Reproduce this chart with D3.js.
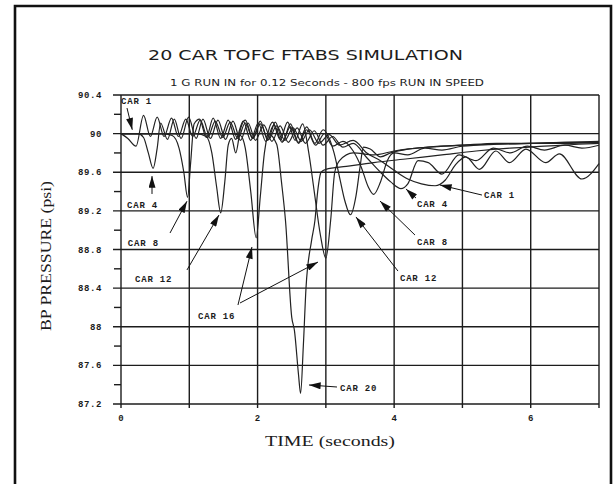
<!DOCTYPE html>
<html>
<head>
<meta charset="utf-8" />
<title>20 CAR TOFC FTABS SIMULATION</title>
<script src="https://d3js.org/d3.v7.min.js"></script>
<style>
    body {
        margin: 0px;
        background: #fff;
    }
    text {
        fill: #1c1c1c;
    }
</style>
</head>
<body>
<svg id="chart"></svg>
<script>

// brake pipe pressure (psi) against time (s)
var car1 = [[0,90.0],[0.1,89.95],[0.22,89.87],[0.33,90.19],[0.43,89.97],[0.53,90.17],[0.63,89.97],[0.74,90.16],[0.84,89.97],[0.95,90.15],[1.05,89.97],[1.16,90.14],[1.27,89.96],[1.38,90.13],[1.49,89.96],[1.6,90.12],[1.71,89.95],[1.82,90.11],[1.93,89.95],[2.04,90.1],[2.16,89.94],[2.28,90.08],[2.4,89.93],[2.52,90.06],[2.64,89.92],[2.76,90.04],[2.9,89.9],[3.05,89.99],[3.2,89.88],[3.4,89.93],[3.6,89.8],[3.8,89.72],[4.0,89.62],[4.2,89.53],[4.4,89.48],[4.6,89.46],[4.75,89.52],[4.9,89.68],[5.05,89.76],[5.25,89.63],[5.49,89.82],[5.69,89.7],[5.93,89.84],[6.22,89.7],[6.42,89.79],[6.75,89.53],[7.0,89.69]];
var car4 = [[0,90.0],[0.25,90.0],[0.33,89.96],[0.4,89.8],[0.47,89.64],[0.53,89.85],[0.58,90.11],[0.68,89.94],[0.78,90.15],[0.88,89.95],[0.99,90.17],[1.1,89.95],[1.2,90.15],[1.31,89.95],[1.42,90.14],[1.53,89.94],[1.64,90.13],[1.75,89.93],[1.86,90.11],[1.97,89.93],[2.09,90.09],[2.21,89.92],[2.33,90.08],[2.45,89.91],[2.58,90.06],[2.7,89.9],[2.83,90.03],[2.96,89.88],[3.1,89.97],[3.25,89.86],[3.4,89.9],[3.6,89.75],[3.8,89.6],[3.95,89.5],[4.1,89.43],[4.2,89.48],[4.35,89.72],[4.5,89.7],[4.7,89.58],[4.95,89.78],[5.2,89.72],[5.45,89.85],[5.7,89.8],[5.95,89.87],[6.2,89.83],[6.5,89.88],[6.75,89.85],[7.0,89.88]];
var car8 = [[0,90.0],[0.6,90.0],[0.75,89.98],[0.85,89.85],[0.92,89.6],[0.975,89.34],[1.02,89.7],[1.07,90.1],[1.15,90.15],[1.25,89.96],[1.35,90.16],[1.46,89.95],[1.57,90.14],[1.68,89.94],[1.79,90.13],[1.9,89.93],[2.01,90.11],[2.12,89.92],[2.24,90.09],[2.36,89.91],[2.48,90.07],[2.6,89.9],[2.72,90.04],[2.85,89.88],[2.98,90.0],[3.1,89.87],[3.25,89.92],[3.4,89.82],[3.52,89.65],[3.62,89.45],[3.7,89.37],[3.8,89.5],[3.9,89.72],[4.0,89.8],[4.2,89.78],[4.45,89.85],[4.7,89.83],[5.0,89.87],[5.5,89.89],[6.0,89.9],[6.5,89.9],[7.0,89.91]];
var car12 = [[0,90.0],[1.1,90.0],[1.25,89.97],[1.33,89.8],[1.4,89.45],[1.46,89.18],[1.52,89.5],[1.57,89.88],[1.62,89.95],[1.68,89.8],[1.75,90.05],[1.82,90.14],[1.93,89.95],[2.04,90.13],[2.15,89.93],[2.26,90.12],[2.37,89.92],[2.48,90.1],[2.6,89.91],[2.72,90.07],[2.84,89.9],[2.96,90.04],[3.05,89.95],[3.12,89.8],[3.2,89.55],[3.28,89.3],[3.36,89.16],[3.44,89.35],[3.5,89.65],[3.55,89.86],[3.65,89.84],[3.8,89.76],[3.95,89.8],[4.2,89.84],[4.5,89.86],[5.0,89.88],[5.5,89.9],[6.0,89.9],[6.5,89.91],[7.0,89.91]];
var car16 = [[0,90.0],[1.6,90.0],[1.75,89.98],[1.82,89.85],[1.9,89.4],[1.98,88.92],[2.04,89.35],[2.1,89.8],[2.15,90.0],[2.22,90.12],[2.33,89.94],[2.44,90.12],[2.55,89.93],[2.66,90.1],[2.75,89.8],[2.83,89.4],[2.92,88.95],[3.0,88.71],[3.07,89.1],[3.13,89.6],[3.2,89.72],[3.4,89.8],[3.7,89.78],[4.0,89.82],[4.5,89.86],[5.0,89.88],[6.0,89.9],[7.0,89.92]];
var car20 = [[0,90.0],[2.0,90.0],[2.15,90.0],[2.28,89.89],[2.35,89.5],[2.41,89.09],[2.5,88.1],[2.54,87.96],[2.6,87.5],[2.63,87.31],[2.67,87.8],[2.71,88.41],[2.79,88.89],[2.84,89.1],[2.88,89.4],[2.93,89.6],[3.0,89.63],[3.3,89.66],[3.7,89.7],[4.2,89.74],[4.7,89.78],[5.2,89.82],[5.7,89.85],[6.2,89.87],[6.7,89.89],[7.0,89.9]];

var seriesNames = ["CAR 1", "CAR 4", "CAR 8", "CAR 12", "CAR 16", "CAR 20"];
var seriesValues = [car1, car4, car8, car12, car16, car20];

var yTickValues = [87.2, 87.6, 88, 88.4, 88.8, 89.2, 89.6, 90, 90.4];
var yMinorValues = [87.4, 87.8, 88.2, 88.6, 89.0, 89.4, 89.8, 90.2];
var xGridValues = [0, 1, 2, 3, 4, 5, 6, 7];
var xTickLabels = [0, 2, 4, 6];

// callouts: label anchor and arrow (from -> to) in data units
var callouts = [
    {text: "CAR 1",  t: 0.0,   v: 90.305, arrows: [[0.088, 90.265, 0.165, 90.04]]},
    {text: "CAR 4",  t: 0.088, v: 89.23,  arrows: [[0.454, 89.375, 0.454, 89.56]]},
    {text: "CAR 8",  t: 0.1,   v: 88.836, arrows: [[0.718, 88.971, 0.966, 89.30]]},
    {text: "CAR 12", t: 0.205, v: 88.463, arrows: [[0.966, 88.588, 1.435, 89.157]]},
    {text: "CAR 16", t: 1.128, v: 88.08,  arrows: [[1.713, 88.225, 1.918, 88.826], [1.743, 88.246, 2.885, 88.67]]},
    {text: "CAR 20", t: 3.207, v: 87.334, arrows: [[3.163, 87.376, 2.753, 87.397]]},
    {text: "CAR 1",  t: 5.316, v: 89.333, arrows: [[5.286, 89.364, 4.671, 89.468]]},
    {text: "CAR 4",  t: 4.334, v: 89.24,  arrows: [[4.32, 89.333, 4.173, 89.427]]},
    {text: "CAR 8",  t: 4.334, v: 88.847, arrows: [[4.305, 88.95, 3.793, 89.302]]},
    {text: "CAR 12", t: 4.085, v: 88.474, arrows: [[4.056, 88.577, 3.441, 89.137]]}
];

var width = 613;
var height = 484;

var svg = d3.select("#chart")
    .attr("width", width)
    .attr("height", height);

var x = d3.scaleLinear().domain([0, 7]).range([121, 599]);
var y = d3.scaleLinear().domain([87.2, 90.4]).range([404, 95]);

var ink = "#1c1c1c";

// page frame of the scanned sheet
svg.append("path")
    .attr("d", "M15," + (height + 2) + "V6H611V" + (height + 2))
    .attr("fill", "none")
    .attr("stroke", "#111")
    .attr("stroke-width", 2.6);

svg.append("text")
    .attr("x", 148)
    .attr("y", 60)
    .attr("textLength", 315)
    .attr("lengthAdjust", "spacingAndGlyphs")
    .style("font-family", "DejaVu Sans")
    .style("font-size", "14px")
    .text("20 CAR TOFC FTABS SIMULATION");

svg.append("text")
    .attr("x", 170)
    .attr("y", 86)
    .attr("textLength", 314)
    .attr("lengthAdjust", "spacingAndGlyphs")
    .style("font-family", "DejaVu Sans")
    .style("font-size", "8px")
    .text("1 G RUN IN for 0.12 Seconds - 800 fps RUN IN SPEED");

// grid
var grid = svg.append("g").attr("stroke", ink).attr("stroke-width", 1.4);

grid.selectAll(".hgrid")
    .data(yTickValues)
    .enter().append("line")
    .attr("class", "hgrid")
    .attr("x1", x(0) - 8)
    .attr("x2", x(7))
    .attr("y1", function(d) { return y(d); })
    .attr("y2", function(d) { return y(d); });

grid.selectAll(".minor")
    .data(yMinorValues)
    .enter().append("line")
    .attr("class", "minor")
    .attr("x1", x(0) - 7)
    .attr("x2", x(0))
    .attr("y1", function(d) { return y(d); })
    .attr("y2", function(d) { return y(d); });

grid.selectAll(".vgrid")
    .data(xGridValues)
    .enter().append("line")
    .attr("class", "vgrid")
    .attr("x1", function(d) { return x(d); })
    .attr("x2", function(d) { return x(d); })
    .attr("y1", y(90.4))
    .attr("y2", y(87.2) + 4);

svg.selectAll(".ylab")
    .data(yTickValues)
    .enter().append("text")
    .attr("class", "ylab")
    .attr("x", x(0) - 19)
    .attr("y", function(d) { return y(d) + 3; })
    .attr("text-anchor", "end")
    .style("font-family", "Liberation Mono")
    .style("font-weight", "bold")
    .style("font-size", "9px")
    .style("letter-spacing", "0.6px")
    .text(function(d) { return String(d); });

svg.selectAll(".xlab")
    .data(xTickLabels)
    .enter().append("text")
    .attr("class", "xlab")
    .attr("x", function(d) { return x(d); })
    .attr("y", y(87.2) + 17)
    .attr("text-anchor", "middle")
    .style("font-family", "Liberation Mono")
    .style("font-weight", "bold")
    .style("font-size", "9px")
    .text(function(d) { return d; });

svg.append("text")
    .attr("transform", "translate(51,256) rotate(-90)")
    .attr("text-anchor", "middle")
    .attr("textLength", 150)
    .attr("lengthAdjust", "spacingAndGlyphs")
    .style("font-family", "Liberation Serif")
    .style("font-size", "14px")
    .text("BP PRESSURE (psi)");

svg.append("text")
    .attr("x", 330)
    .attr("y", 446)
    .attr("text-anchor", "middle")
    .attr("textLength", 130)
    .attr("lengthAdjust", "spacingAndGlyphs")
    .style("font-family", "Liberation Serif")
    .style("font-size", "14px")
    .text("TIME (seconds)");

// curves
var line = d3.line()
    .x(function(d) { return x(d[0]); })
    .y(function(d) { return y(d[1]); })
    .curve(d3.curveMonotoneX);

svg.append("g").selectAll(".car")
    .data(seriesValues)
    .enter().append("path")
    .attr("class", "car")
    .attr("d", line)
    .attr("fill", "none")
    .attr("stroke", "#222")
    .attr("stroke-width", 1.2);

// callouts
svg.append("defs").append("marker")
    .attr("id", "head")
    .attr("viewBox", "0 0 10 6")
    .attr("refX", 10)
    .attr("refY", 3)
    .attr("markerWidth", 13)
    .attr("markerHeight", 7)
    .attr("markerUnits", "userSpaceOnUse")
    .attr("orient", "auto")
    .append("path")
    .attr("d", "M0,0L10,3L0,6Z")
    .attr("fill", "#111");

var notes = svg.append("g");

callouts.forEach(function(c) {
    notes.append("text")
        .attr("x", x(c.t))
        .attr("y", y(c.v))
        .style("font-family", "Liberation Mono")
        .style("font-weight", "bold")
        .style("font-size", "9px")
        .style("letter-spacing", "0.8px")
        .text(c.text);
    c.arrows.forEach(function(a) {
        notes.append("line")
            .attr("x1", x(a[0]))
            .attr("y1", y(a[1]))
            .attr("x2", x(a[2]))
            .attr("y2", y(a[3]))
            .attr("stroke", "#111")
            .attr("stroke-width", 1)
            .attr("marker-end", "url(#head)");
    });
});

</script>
</body>
</html>
